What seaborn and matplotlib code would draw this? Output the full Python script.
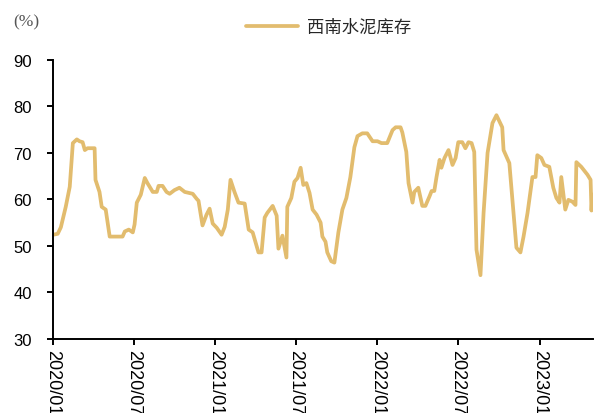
import pandas as pd
import matplotlib.pyplot as plt
import matplotlib.dates as mdates
import seaborn as sns

# 西南水泥库存 (%)
dates = [
    "2020-01-02", "2020-01-12", "2020-01-19", "2020-01-30", "2020-02-08", "2020-02-15",
    "2020-02-24", "2020-03-01", "2020-03-08", "2020-03-13", "2020-03-19", "2020-04-04",
    "2020-04-06", "2020-04-15", "2020-04-20", "2020-04-29", "2020-05-08", "2020-06-06",
    "2020-06-11", "2020-06-20", "2020-06-29", "2020-07-03", "2020-07-08", "2020-07-17",
    "2020-07-26", "2020-08-01", "2020-08-13", "2020-08-22", "2020-08-26", "2020-09-04",
    "2020-09-13", "2020-09-20", "2020-10-01", "2020-10-12", "2020-10-24", "2020-11-02",
    "2020-11-11", "2020-11-20", "2020-11-24", "2020-12-03", "2020-12-12", "2020-12-19",
    "2020-12-26", "2021-01-04", "2021-01-15", "2021-01-22", "2021-01-29", "2021-02-04",
    "2021-02-13", "2021-02-22", "2021-03-08", "2021-03-17", "2021-03-26", "2021-04-01",
    "2021-04-08", "2021-04-15", "2021-04-22", "2021-04-28", "2021-05-10", "2021-05-19",
    "2021-05-23", "2021-06-01", "2021-06-10", "2021-06-12", "2021-06-21", "2021-06-28",
    "2021-07-05", "2021-07-12", "2021-07-18", "2021-07-25", "2021-08-01", "2021-08-08",
    "2021-08-17", "2021-08-26", "2021-08-30", "2021-09-06", "2021-09-10", "2021-09-19",
    "2021-09-26", "2021-10-05", "2021-10-14", "2021-10-23", "2021-11-01", "2021-11-10",
    "2021-11-17", "2021-11-28", "2021-12-09", "2021-12-21", "2022-01-01", "2022-01-10",
    "2022-01-23", "2022-02-04", "2022-02-11", "2022-02-22", "2022-02-26", "2022-03-07",
    "2022-03-12", "2022-03-21", "2022-03-25", "2022-04-03", "2022-04-12", "2022-04-19",
    "2022-04-28", "2022-05-03", "2022-05-09", "2022-05-14", "2022-05-21", "2022-05-25",
    "2022-06-01", "2022-06-10", "2022-06-19", "2022-06-26", "2022-07-02", "2022-07-11",
    "2022-07-18", "2022-07-25", "2022-08-01", "2022-08-07", "2022-08-12", "2022-08-21",
    "2022-08-28", "2022-09-06", "2022-09-17", "2022-09-26", "2022-10-09", "2022-10-12",
    "2022-10-25", "2022-11-10", "2022-11-19", "2022-11-26", "2022-12-05", "2022-12-16",
    "2022-12-23", "2022-12-27", "2023-01-05", "2023-01-12", "2023-01-23", "2023-02-01",
    "2023-02-08", "2023-02-15", "2023-02-19", "2023-02-28", "2023-03-07", "2023-03-16",
    "2023-03-23", "2023-03-25", "2023-04-05", "2023-04-19", "2023-04-26", "2023-04-28",
    "2023-04-30",
]
inventory = [
    52.4, 52.6, 54.0, 58.4, 62.7, 72.1,
    72.9, 72.5, 72.3, 70.6, 71.0, 71.0,
    64.2, 61.6, 58.4, 57.8, 52.0, 52.0,
    53.1, 53.5, 52.9, 54.6, 59.3, 61.0,
    64.6, 63.5, 61.6, 61.6, 62.9, 62.9,
    61.6, 61.2, 62.0, 62.5, 61.6, 61.4,
    61.2, 60.1, 59.7, 54.4, 56.7, 58.0,
    54.8, 53.9, 52.4, 54.1, 57.8, 64.2,
    61.6, 59.3, 59.1, 53.5, 52.9, 50.9,
    48.6, 48.6, 56.1, 57.1, 58.6, 56.5,
    49.4, 52.2, 47.5, 58.4, 60.3, 63.8,
    64.6, 66.8, 63.1, 63.5, 61.4, 57.8,
    56.7, 55.0, 52.0, 50.9, 48.6, 46.7,
    46.4, 52.9, 57.8, 60.3, 64.8, 71.2,
    73.6, 74.2, 74.2, 72.5, 72.5, 72.1,
    72.1, 74.9, 75.5, 75.5, 74.4, 70.2,
    63.5, 59.3, 61.6, 62.5, 58.6, 58.6,
    60.6, 61.8, 61.8, 64.8, 68.5, 66.8,
    68.9, 70.6, 67.4, 68.9, 72.3, 72.3,
    71.0, 72.3, 72.1, 70.2, 49.2, 43.7,
    57.1, 70.0, 76.4, 78.1, 75.5, 70.6,
    67.8, 49.6, 48.6, 52.0, 57.1, 64.8,
    64.8, 69.5, 68.9, 67.4, 67.0, 62.5,
    60.3, 59.3, 64.8, 57.8, 59.9, 59.5,
    58.8, 68.0, 67.0, 65.3, 64.2, 57.6,
    61.0,
]
series_name = "西南水泥库存"
tick_dates = ["2020-01-01", "2020-07-01", "2021-01-01", "2021-07-01",
              "2022-01-01", "2022-07-01", "2023-01-01"]

df = pd.DataFrame({"date": pd.to_datetime(dates), "value": inventory})

sns.set_style("ticks")
plt.rcParams["font.family"] = ["Liberation Sans", "Noto Sans CJK SC", "DejaVu Sans"]

fig = plt.figure(figsize=(5.94, 4.14), dpi=100)
ax = fig.add_axes([0.089, 0.179, 0.909, 0.674])

sns.lineplot(data=df, x="date", y="value", ax=ax, color="#E2BC6E",
             linewidth=2.7, label=series_name)

ax.set_xlim(pd.Timestamp("2020-01-01"), pd.Timestamp("2023-05-01"))
ax.set_ylim(30, 90)
ax.set_yticks(range(30, 91, 10))
ax.set_xticks(pd.to_datetime(tick_dates))
ax.xaxis.set_major_formatter(mdates.DateFormatter("%Y/%m"))
ax.set_xlabel("")
ax.set_ylabel("")

for side in ["top", "right"]:
    ax.spines[side].set_visible(False)
for side in ["left", "bottom"]:
    ax.spines[side].set_color("black")
    ax.spines[side].set_linewidth(1.4)
ax.tick_params(axis="both", direction="out", length=4, width=1.4, color="black",
               labelcolor="black")
ax.tick_params(axis="y", labelsize=12, pad=11)
ax.tick_params(axis="x", labelsize=13, labelrotation=-90, pad=3)
for lbl in ax.get_xticklabels():
    lbl.set_va("top")
    lbl.set_ha("center")

fig.text(0.022, 0.947, "(%)", fontsize=12.5, color="#555555", family="Liberation Serif",
         va="center", ha="left")

ax.legend(loc="center", bbox_to_anchor=(0.553, 0.932), bbox_transform=fig.transFigure,
          frameon=False, handlelength=3.0, handletextpad=0.5,
          prop={"family": ["Noto Sans CJK SC", "DejaVu Sans"], "size": 12.5})

fig.savefig("out.png", dpi=100)
